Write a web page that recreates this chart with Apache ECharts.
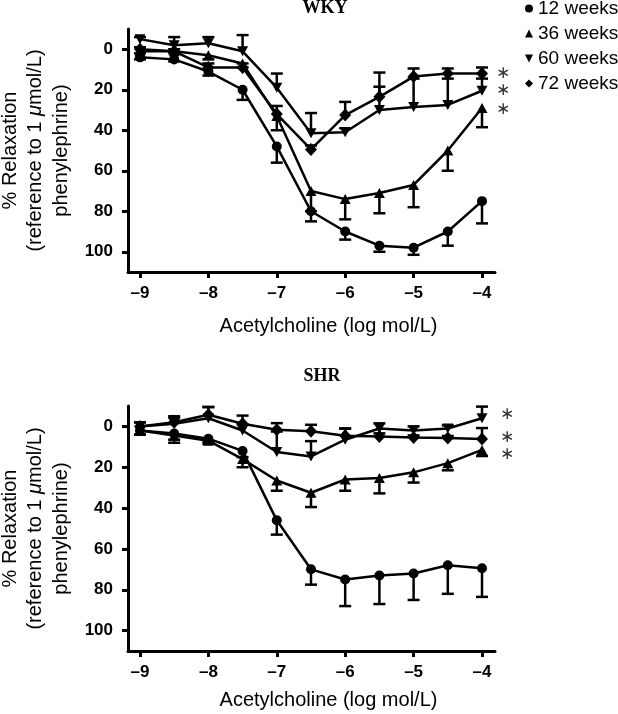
<!DOCTYPE html>
<html>
<head>
<meta charset="utf-8">
<script src="https://cdn.jsdelivr.net/npm/echarts@6/dist/echarts.min.js"></script>
<style>
html,body{margin:0;padding:0;background:#fff;}
#c{width:618px;height:714px;}
</style>
</head>
<body>
<div id="c"></div>
<script>
// ---- data ----
const xVals = [-9, -8.5, -8, -7.5, -7, -6.5, -6, -5.5, -5, -4.5, -4];
const xTicks = [-9, -8, -7, -6, -5, -4];
const yTicks = [0, 20, 40, 60, 80, 100];
const seriesNames = ['12 weeks', '36 weeks', '60 weeks', '72 weeks'];
const panelTitles = ['WKY', 'SHR'];

// WKY (% relaxation) and SEM
const wky12 = [4, 5, 11, 20, 48, 80, 90, 97, 98, 90, 75];
const wky12Err = [1, 1, 2, 5, 8, 5, 4, 3, 3.5, 7, 11];
const wky36 = [1, 1, 3, 7, 33, 70, 74, 71, 67, 50, 29];
const wky36Err = [1, 1, 2, 2, 7, 10, 10, 10, 11, 10, 9.5];
const wky60 = [-5, -2, -3, 1, 19, 41.5, 41, 30, 28.5, 27.5, 20.5];
const wky60Err = [1, 4, 3, 8, 7, 10, 2, 11.5, 14, 13, 6];
const wky72 = [0, 1, 9, 9, 32, 49.5, 32.5, 23.5, 13.5, 12, 12];
const wky72Err = [1, 1, 2, 2, 4, 2, 6.5, 12, 4, 2.5, 3];

// SHR (% relaxation) and SEM
const shr12 = [2, 3.5, 6, 12, 46, 70, 75, 73, 72, 68, 69.5];
const shr12Err = [2, 3, 1.5, 3, 7, 7.5, 13, 14, 13, 14, 14];
const shr36 = [2, 4.5, 7, 16, 26.5, 32.5, 26, 25.3, 22.5, 18, 11.5];
const shr36Err = [2, 3.5, 1.5, 4, 5, 7, 5.5, 7.5, 5, 3.5, 3];
const shr60 = [0, -1.3, -4, 2, 12.5, 14.7, 6.5, 1, 2, 1, -4];
const shr60Err = [2, 3, 5.5, 3, 10, 7.5, 5.5, 2.5, 2, 1.5, 5.7];
const shr72 = [0, -2, -5.7, -1.3, 1.6, 2.4, 4.6, 4.9, 5.4, 5.7, 6.2];
const shr72Err = [2, 3, 3.8, 4, 3.2, 3.2, 3.5, 1.5, 1, 1, 5.4];

// significance asterisks (value level at x = -4)
const wkyStars = [12, 20.5, 30];
const shrStars = [-5.6, 5.7, 14];

// ---- chart ----
const FONT = '"Liberation Sans", Arial, sans-serif';
const symbols = [
  {symbol: 'circle', size: 10, rotate: 0, icon: 'circle'},
  {symbol: 'triangle', size: [11, 10], rotate: 0, icon: 'triangle'},
  {symbol: 'triangle', size: [11, 10], rotate: 180, icon: 'path://M0,0L10,0L5,10Z'},
  {symbol: 'diamond', size: [12, 13], rotate: 0, icon: 'diamond'}
];
// error bar direction: +1 = toward larger values (down), -1 = up
const errDir = [1, 1, -1, -1];

const panels = [
  {vals: [wky12, wky36, wky60, wky72], errs: [wky12Err, wky36Err, wky60Err, wky72Err]},
  {vals: [shr12, shr36, shr60, shr72], errs: [shr12Err, shr36Err, shr60Err, shr72Err]}
];

const chart = echarts.init(document.getElementById('c'), null, {renderer: 'canvas'});

function errRender(params, api) {
  const x = api.value(0), v = api.value(1), e = api.value(2);
  const p0 = api.coord([x, v]);
  const p1 = api.coord([x, e]);
  const w = 6;
  const st = {stroke: '#000', lineWidth: 2.5};
  return {
    type: 'group',
    children: [
      {type: 'line', shape: {x1: p0[0], y1: p0[1], x2: p1[0], y2: p1[1]}, style: st},
      {type: 'line', shape: {x1: p1[0] - w, y1: p1[1], x2: p1[0] + w, y2: p1[1]}, style: st}
    ]
  };
}

const grids = [
  {left: 128, top: 29, width: 367, height: 243, containLabel: false, outerBoundsMode: 'none'},
  {left: 128, top: 406, width: 367, height: 245, containLabel: false, outerBoundsMode: 'none'}
];
const nameGaps = [44, 39];

const xAxes = grids.map((g, i) => ({
  type: 'value', gridIndex: i, min: -9.175, max: -3.81,
  axisLine: {show: true, onZero: false, lineStyle: {color: '#000', width: 3}},
  axisTick: {show: true, length: 6, customValues: xTicks, lineStyle: {color: '#000', width: 3}},
  axisLabel: {
    customValues: xTicks, margin: 13, fontSize: 17, fontWeight: 'bold', color: '#000', fontFamily: FONT,
    formatter: v => String(v).replace('-', '\u2013')
  },
  splitLine: {show: false},
  name: 'Acetylcholine (log mol/L)', nameLocation: 'middle', nameGap: nameGaps[i],
  nameTextStyle: {fontSize: 20, color: '#000', fontFamily: FONT, padding: [0, 0, 0, 34]}
}));

const yAxes = grids.map((g, i) => ({
  type: 'value', gridIndex: i, inverse: true, min: -10, max: 110,
  axisLine: {show: true, onZero: false, lineStyle: {color: '#000', width: 3}},
  axisTick: {show: true, length: 6, customValues: yTicks, lineStyle: {color: '#000', width: 3}},
  axisLabel: {customValues: yTicks, margin: 15, fontSize: 17, fontWeight: 'bold', color: '#000', fontFamily: FONT},
  splitLine: {show: false},
  name: '% Relaxation\n(reference to 1 {i|\u03bc}mol/L)\nphenylephrine)',
  nameLocation: 'middle', nameGap: 54, nameRotate: 90,
  nameTextStyle: {
    fontSize: 20, lineHeight: 25.5, color: '#000', fontFamily: FONT, align: 'center',
    rich: {i: {fontStyle: 'italic', fontSize: 20, lineHeight: 25.5, color: '#000', fontFamily: FONT}}
  }
}));

const series = [];
panels.forEach((p, gi) => {
  p.vals.forEach((vals, si) => {
    const errData = xVals.map((x, k) => [x, vals[k], vals[k] + errDir[si] * p.errs[si][k]]);
    series.push({
      name: seriesNames[si] + ' SEM ' + gi, type: 'custom', xAxisIndex: gi, yAxisIndex: gi,
      renderItem: errRender, data: errData, encode: {x: 0, y: 1}, z: 2, silent: true
    });
  });
  p.vals.forEach((vals, si) => {
    const s = symbols[si];
    series.push({
      name: seriesNames[si], type: 'line', xAxisIndex: gi, yAxisIndex: gi,
      data: xVals.map((x, k) => [x, vals[k]]),
      symbol: s.symbol, symbolSize: s.size, symbolRotate: s.rotate, showSymbol: true,
      lineStyle: {color: '#000', width: 2.5},
      itemStyle: {color: '#000', borderWidth: 0},
      z: 3, silent: true
    });
  });
});

chart.setOption({
  animation: false,
  backgroundColor: '#fff',
  grid: grids,
  xAxis: xAxes,
  yAxis: yAxes,
  legend: {
    orient: 'vertical', left: 525, top: -1, padding: 0, itemGap: 6,
    itemWidth: 8, itemHeight: 8, selectedMode: false,
    textStyle: {fontSize: 19, lineHeight: 19, color: '#000', fontFamily: FONT, padding: [0, 0, 0, 0]},
    itemStyle: {borderWidth: 0},
    data: seriesNames.map((n, i) => ({name: n, icon: symbols[i].icon}))
  },
  series: series
});

// titles and asterisks positioned through the axes' scales
const graphics = [];
const titlePos = [[325, 8.5], [322, 376.5]];
panelTitles.forEach((t, i) => {
  graphics.push({
    type: 'text', x: titlePos[i][0], y: titlePos[i][1],
    style: {text: t, font: 'bold 18px "Liberation Serif", "Times New Roman", serif', fill: '#000', align: 'center', verticalAlign: 'middle'}
  });
});
[[wkyStars, 0, 21], [shrStars, 1, 25]].forEach(([stars, gi, dx]) => {
  stars.forEach(v => {
    const p = chart.convertToPixel({xAxisIndex: gi, yAxisIndex: gi}, [-4, v]);
    graphics.push({
      type: 'text', x: p[0] + dx, y: p[1],
      style: {text: '\u2217', font: '17px "DejaVu Sans", sans-serif', fill: '#333', align: 'center', verticalAlign: 'middle'}
    });
  });
});
chart.setOption({graphic: graphics});
</script>
</body>
</html>
